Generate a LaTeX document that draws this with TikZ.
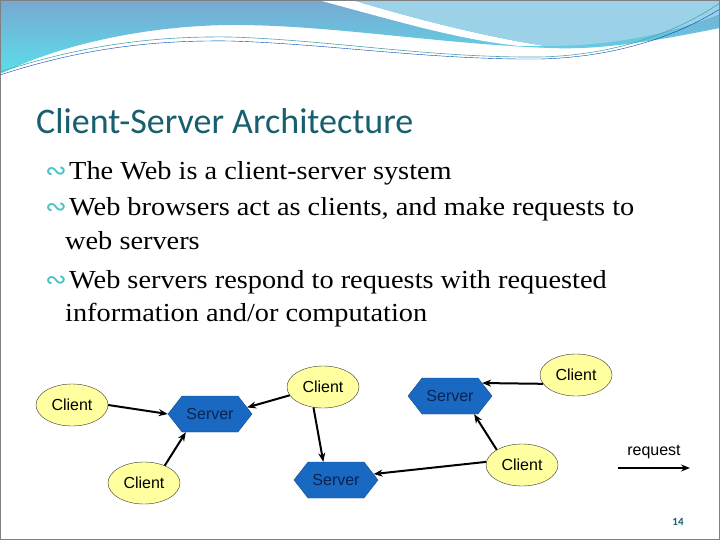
\documentclass[tikz,border=0pt]{standalone}
\usepackage{fontspec}
\setmainfont{Liberation Serif}[FakeStretch=1.09]
\newfontfamily\titlefont{Carlito}
\newfontfamily\labelfont{Liberation Sans}
\newfontfamily\symfont{DejaVu Sans}
\usetikzlibrary{shapes.geometric,shapes.symbols,arrows.meta}

\definecolor{titleteal}{RGB}{23,94,110}
\definecolor{bulletteal}{RGB}{75,195,200}
\definecolor{clientfill}{RGB}{255,255,160}
\definecolor{serverfill}{RGB}{25,105,195}
\definecolor{servertext}{RGB}{10,35,80}
\definecolor{bandtop}{RGB}{120,168,210}
\definecolor{bandbot}{RGB}{90,222,235}
\definecolor{bandlight}{RGB}{155,210,232}

\newcommand{\bul}{\makebox[24pt][l]{\color{bulletteal}\symfont\fontsize{26}{26}\selectfont ∾}}

\tikzset{
  client/.style={ellipse, draw=black!80, fill=clientfill, minimum width=72pt,
    minimum height=42pt, inner sep=0pt, font=\labelfont\fontsize{16}{18}\selectfont},
  server/.style={signal, signal to=west and east, signal pointer angle=104,
    draw=serverfill!70!black, fill=serverfill, text=servertext, minimum width=84pt,
    minimum height=36pt, inner sep=0pt, font=\labelfont\fontsize{16}{18}\selectfont},
  link/.style={-{Stealth[length=9pt,width=7pt]}, line width=2pt},
  bulletline/.style={anchor=base west, inner sep=0pt, font=\fontsize{26}{30}\selectfont},
}

\begin{document}
\begin{tikzpicture}[x=1pt,y=-1pt]
    \useasboundingbox (0,0) rectangle (720,540);
    \fill[white] (0,0) rectangle (720,540);

    % Header band
    \shade[top color=bandtop, bottom color=bandbot]
      (0,0) -- (720,0) -- (720,28)
      .. controls (650,42) and (600,50) .. (550,48)
      .. controls (440,44) and (330,25) .. (235,25)
      .. controls (160,25) and (70,40) .. (0,74) -- cycle;
    \fill[white] (318,0) .. controls (400,22) and (460,40) .. (520,46)
      -- (545,46) .. controls (480,36) and (405,16) .. (352,0) -- cycle;
    \fill[bandlight] (352,0) -- (720,0) -- (720,14)
      .. controls (660,38) and (600,46) .. (545,46)
      .. controls (480,36) and (405,16) .. (352,0) -- cycle;
    \draw[teal!70, line width=0.6pt] (0,72) .. controls (80,46) and (150,36) .. (230,37)
      .. controls (330,40) and (430,58) .. (540,57)
      .. controls (620,55) and (680,30) .. (720,3);
    \draw[teal!50!blue, line width=0.4pt] (0,75) .. controls (80,49) and (150,40) .. (230,41)
      .. controls (330,44) and (430,60) .. (540,59)
      .. controls (620,57) and (680,34) .. (720,9);

    % Slide frame
    \draw[gray, line width=0.8pt] (0.5,0.5) rectangle (719.5,539.5);

    % Title and bullets
    \node[anchor=base west, inner sep=0pt, text=titleteal,
      font=\titlefont\fontsize{36}{40}\selectfont] (title) at (36,134) {Client-Server Architecture};
    \node[bulletline] (l1) at (45,180) {\bul The Web is a client-server system};
    \node[bulletline] (l2) at (45,215) {\bul Web browsers act as clients, and make requests to};
    \node[bulletline] (l3) at (65,249) {web servers};
    \node[bulletline] (l4) at (45,288) {\bul Web servers respond to requests with requested};
    \node[bulletline] (l5) at (65,321) {information and/or computation};

    % Clients and servers
    \node[client] (ca) at (72,405) {Client};
    \node[client] (cb) at (323,387) {Client};
    \node[client] (cc) at (144,483) {Client};
    \node[client] (cd) at (576,375) {Client};
    \node[client] (ce) at (522,465) {Client};
    \node[server] (s1) at (210,414) {Server};
    \node[server] (s2) at (336,480) {Server};
    \node[server] (s3) at (450,396) {Server};

    % Requests
    \draw[link] (ca.east) -- (s1.west);
    \draw[link] (cc.40) -- (s1.217);
    \draw[link] (cb.194) -- (s1.10);
    \draw[link] (cb.245) -- (s2.125);
    \draw[link] (cd.195) -- (s3.22);
    \draw[link] (ce.149) -- (s3.323);
    \draw[link] (ce.175) -- (s2.9);

    % Legend
    \coordinate (rq0) at (618,468);
    \coordinate (rq1) at (690,468);
    \draw[link] (rq0) -- node[above=5pt, font=\labelfont\fontsize{16}{18}\selectfont] (rqlabel) {request} (rq1);

    % Page number
    \node[text=titleteal, font=\titlefont\bfseries\fontsize{11}{13}\selectfont] (page) at (678,522) {14};
\end{tikzpicture}
\end{document}
